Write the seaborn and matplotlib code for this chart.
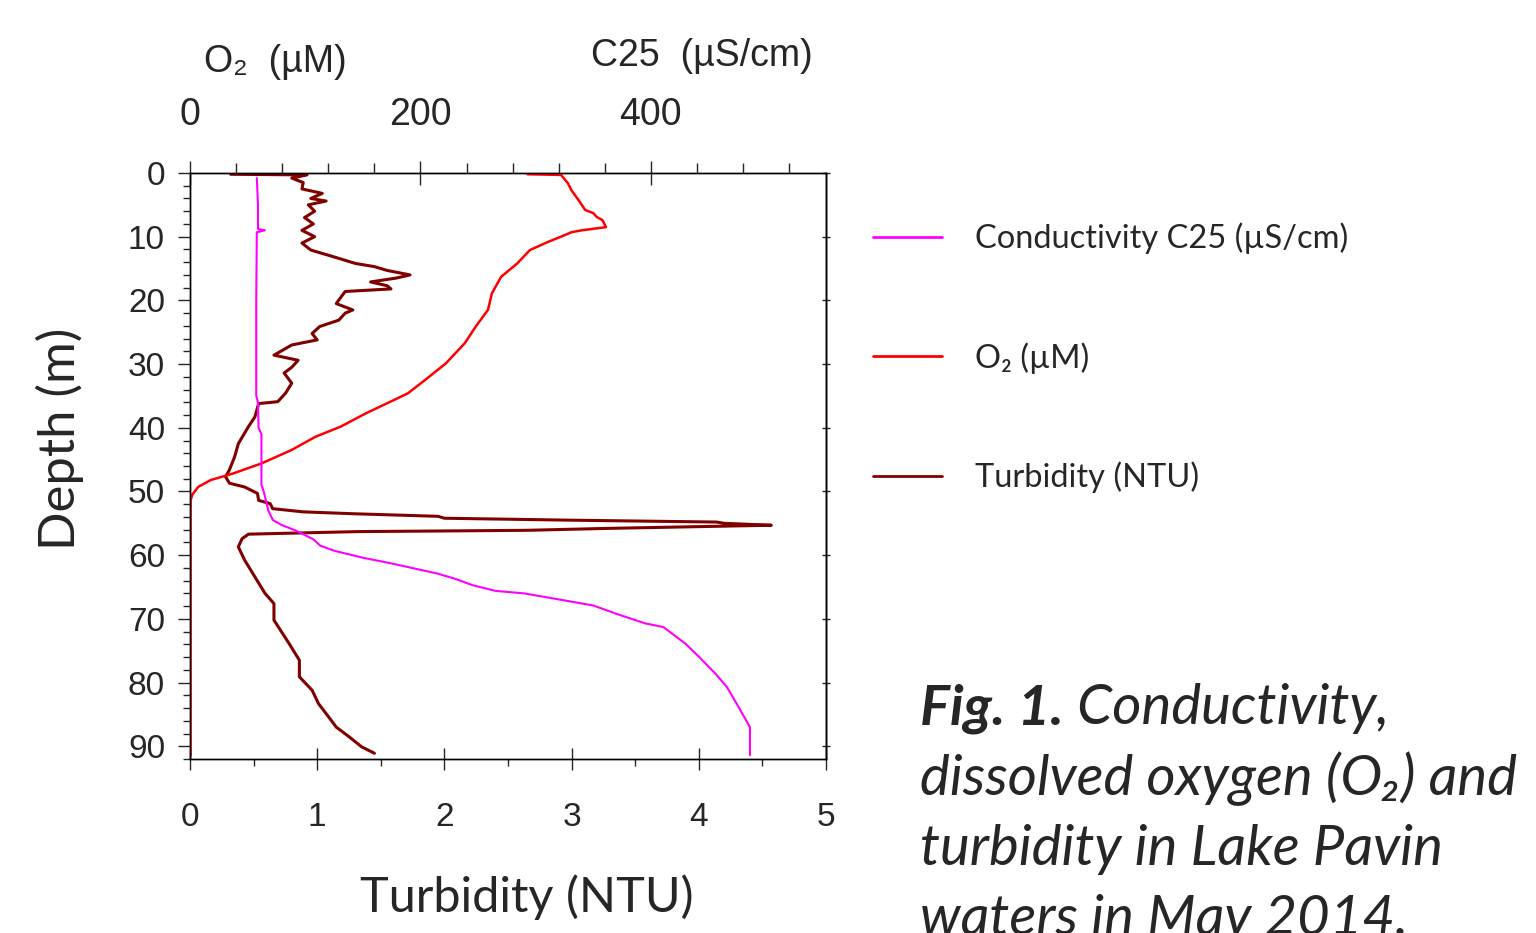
import numpy as np
import pandas as pd
import matplotlib
matplotlib.use("Agg")
import matplotlib.pyplot as plt
from matplotlib.ticker import MultipleLocator
from matplotlib.lines import Line2D
import seaborn as sns

# Lake Pavin profiles, May 2014
turb_depth = [0.2, 0.3, 0.8, 1.5, 2.5, 3.2, 4.0, 4.4, 5.0, 6.0, 7.0, 8.0, 9.0, 10.0,
              11.0, 12.1, 13.1, 14.2, 14.7, 15.3, 16.0, 16.5, 17.1, 17.7, 18.2, 18.6,
              19.4, 20.5, 21.5, 22.0, 23.1, 24.1, 25.2, 26.2, 27.0, 28.6, 29.4, 30.5,
              31.4, 33.0, 34.6, 35.9, 36.2, 38.3, 39.8, 42.5, 44.6, 46.6, 47.7, 48.7,
              49.3, 50.3, 51.4, 51.9, 52.7, 53.2, 53.5, 53.9, 54.2, 54.5, 54.8, 55.0,
              55.3, 55.8, 56.1, 56.3, 56.7, 57.4, 58.7, 60.8, 63.4, 66.0, 67.6, 70.2,
              73.9, 76.5, 79.1, 81.2, 83.3, 85.4, 87.0, 88.5, 90.1, 91.1]
turb_ntu = [0.32, 0.92, 0.80, 0.89, 0.88, 1.04, 0.95, 1.07, 0.93, 0.98, 0.90, 0.97, 0.88, 0.98,
            0.88, 0.95, 1.12, 1.30, 1.45, 1.55, 1.73, 1.62, 1.42, 1.55, 1.58, 1.22,
            1.19, 1.15, 1.28, 1.22, 1.17, 1.02, 0.96, 1.00, 0.80, 0.66, 0.85, 0.80,
            0.74, 0.80, 0.75, 0.69, 0.54, 0.51, 0.46, 0.38, 0.35, 0.31, 0.28, 0.31,
            0.43, 0.53, 0.54, 0.63, 0.65, 0.89, 1.29, 1.95, 2.00, 2.97, 4.14, 4.20,
            4.57, 3.27, 2.64, 1.32, 0.46, 0.41, 0.38, 0.43, 0.51, 0.59, 0.66, 0.66,
            0.78, 0.86, 0.86, 0.96, 1.01, 1.09, 1.15, 1.25, 1.35, 1.45]

o2_depth = [0.2, 0.3, 1.6, 2.7, 4.2, 5.8, 6.3, 6.9, 7.4, 8.5, 9.0, 9.3, 10.0, 10.8,
            12.1, 14.2, 16.3, 18.9, 21.5, 24.1, 26.7, 29.9, 32.5, 34.6, 35.9, 37.7,
            39.8, 41.4, 43.5, 45.6, 47.2, 48.2, 49.3, 50.5, 51.4, 91.5]
o2_um = [293, 322, 328, 331, 337, 343, 350, 353, 358, 361, 340, 331, 322, 311,
         295, 284, 270, 262, 258.6, 248, 238.6, 222, 204, 189, 174, 153,
         131, 109, 88, 62, 37, 18, 7, 2, 0.5, 0.5]

c25_depth = [0.8, 5.0, 8.8, 9.0, 9.3, 20.0, 35.0, 36.0, 40.0, 41.0, 49.0, 50.0, 51.5,
             53.0, 54.5, 55.3, 56.0, 56.6, 57.5, 58.5, 59.3, 60.4, 61.3, 62.1, 62.9,
             63.7, 64.7, 65.6, 66.0, 67.1, 67.9, 69.2, 70.7, 71.3, 73.9, 76.0, 78.6,
             80.7, 83.8, 85.4, 87.0, 91.4]
c25_us = [58, 59, 59, 65, 58, 57.5, 57.5, 59, 59.5, 62, 62, 64, 66,
          68, 72, 80, 90, 97, 107, 113, 125, 150, 175, 195, 215,
          230, 245, 265, 290, 325, 350, 370, 395, 411, 430, 442, 456,
          466, 476, 481, 486, 486]

legend_labels = ["Conductivity C25 (µS/cm)", "O₂ (µM)", "Turbidity (NTU)"]
colors = ["#ff00ff", "#ff0000", "#800000"]
caption_lines = ["dissolved oxygen (O₂) and", "turbidity in Lake Pavin", "waters in May 2014."]

sns.set_style("ticks")
plt.rcParams["font.family"] = ["Liberation Sans", "DejaVu Sans"]
plt.rcParams["axes.linewidth"] = 1.0
soft_font = ["Lato", "DejaVu Sans"]

fig = plt.figure(figsize=(15.36, 9.33), dpi=100)
ax = fig.add_axes([190 / 1536, 1 - 759 / 933, 636 / 1536, 586 / 933])

turb = pd.DataFrame({"depth": turb_depth, "value": turb_ntu})
o2 = pd.DataFrame({"depth": o2_depth, "value": o2_um})
c25 = pd.DataFrame({"depth": c25_depth, "value": c25_us})

sns.lineplot(data=turb, x="value", y="depth", sort=False, estimator=None,
             color=colors[2], lw=2.2, ax=ax)
ax.set_xlim(0, 5)
ax.set_ylim(92, 0)
ax.set_xlabel("")
ax.set_ylabel("")

# O2 and conductivity share the top scale
axt = ax.twiny()
sns.lineplot(data=o2, x="value", y="depth", sort=False, estimator=None,
             color=colors[1], lw=1.8, ax=axt)
sns.lineplot(data=c25, x="value", y="depth", sort=False, estimator=None,
             color=colors[0], lw=1.5, ax=axt)
axt.set_xlim(0, 552)
axt.set_ylim(92, 0)
axt.set_xlabel("")
axt.set_ylabel("")

# bottom axis ticks
ax.xaxis.set_major_locator(MultipleLocator(1))
ax.xaxis.set_minor_locator(MultipleLocator(0.5))
ax.tick_params(axis="x", which="major", direction="inout", length=16, width=1,
               labelsize=24, pad=23)
ax.tick_params(axis="x", which="minor", direction="out", length=5, width=1)

# left axis ticks
ax.yaxis.set_major_locator(MultipleLocator(10))
ax.yaxis.set_minor_locator(MultipleLocator(2))
ax.tick_params(axis="y", which="major", direction="out", length=9, width=1,
               labelsize=24, pad=9)
ax.tick_params(axis="y", which="minor", direction="out", length=5, width=1)

# right axis: major ticks only, crossing the spine
axr = ax.secondary_yaxis("right")
axr.set_yticks(np.arange(0, 91, 10))
axr.tick_params(axis="y", which="major", direction="inout", length=6, width=1,
                labelright=False)
axr.yaxis.set_minor_locator(plt.NullLocator())

# top axis ticks
axt.xaxis.set_major_locator(MultipleLocator(200))
axt.xaxis.set_minor_locator(MultipleLocator(40))
axt.tick_params(axis="x", which="major", direction="inout", length=17, width=1,
                labelsize=27, pad=20)
axt.tick_params(axis="x", which="minor", direction="out", length=7, width=1)

for a in (ax, axt):
    for s in a.spines.values():
        s.set_visible(True)
        s.set_color("black")

# axis titles
fig.text(275 / 1536, 1 - 62 / 933, "O₂  (µM)", fontsize=27, ha="center", va="center")
fig.text(702 / 1536, 1 - 56 / 933, "C25  (µS/cm)", fontsize=27, ha="center", va="center")
fig.text(60 / 1536, 1 - 439 / 933, "Depth (m)", fontsize=36.5, family=soft_font,
         rotation=90, ha="center", va="center")
fig.text(527 / 1536, 1 - 897 / 933, "Turbidity (NTU)", fontsize=35,
         family=soft_font, ha="center", va="center")

# legend
handles = [Line2D([], [], color=c, lw=2) for c in colors]
fig.legend(handles, legend_labels, loc="upper left", bbox_to_anchor=(844 / 1536, 1 - 193 / 933),
           frameon=False, prop={"family": soft_font, "size": 23.5},
           handlelength=2.1, handletextpad=1.0, labelspacing=2.7)

# caption
x0 = 920 / 1536
t1 = fig.text(x0, 1 - 725 / 933, "Fig. 1.", fontsize=40.5, family=soft_font,
              style="italic", weight="bold", va="baseline")
ax.annotate(" Conductivity,", xy=(1, 0), xycoords=t1, fontsize=40.5, family=soft_font,
            style="italic", va="bottom", ha="left", annotation_clip=False)
for i, line in enumerate(caption_lines):
    fig.text(x0, 1 - (795 + 70 * i) / 933, line, fontsize=40.5, family=soft_font,
             style="italic", va="baseline")

fig.savefig("out.png", dpi=100)
